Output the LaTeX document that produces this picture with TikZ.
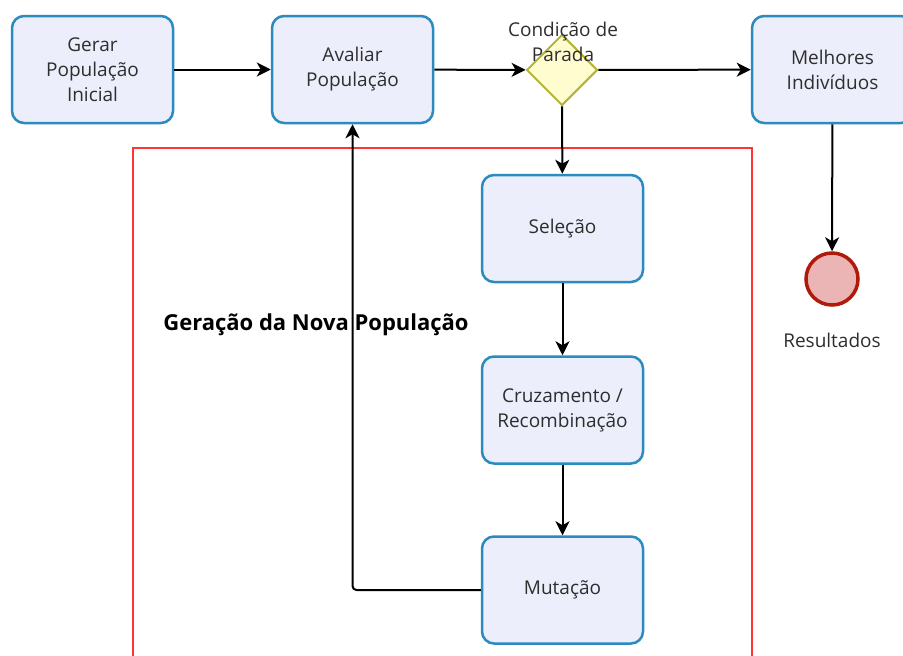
\documentclass[tikz,border=0pt]{standalone}
\usepackage{fontspec}
\setmainfont{Open Sans}
\usetikzlibrary{shapes.geometric,arrows.meta}

\definecolor{boxfill}{HTML}{ECEEFB}
\definecolor{boxline}{HTML}{2B8BBE}
\definecolor{gatefill}{HTML}{FFFDD0}
\definecolor{gateline}{HTML}{B5B43A}
\definecolor{endfill}{HTML}{EBB5B5}
\definecolor{endline}{HTML}{B01A0A}
\definecolor{groupline}{HTML}{FF3535}
\definecolor{txt}{HTML}{2E2E2E}

\begin{document}
\begin{tikzpicture}[x=1pt,y=-1pt,
    font=\fontsize{19}{25}\selectfont,
    every edge/.style={draw,line width=2pt,-{Stealth[length=14pt,width=14pt,inset=4pt]}}]

        \useasboundingbox (0,0) rectangle (903,656);

        % grupo da nova populacao
        \draw[groupline,line width=2pt] (133,680) -- (133,148) -- (752,148) -- (752,680);
        \node[font=\fontsize{22}{26}\selectfont\bfseries] (grupo) at (316,325) {Geração da Nova População};

        \begin{scope}[every node/.style={rectangle,rounded corners=12pt,draw=boxline,fill=boxfill,
            line width=2.5pt,minimum width=161pt,minimum height=107pt,align=center,text=txt}]
          \node (gerar)   at (92.5,69.5)   {Gerar\\População\\Inicial};
          \node (avaliar) at (352.5,69.5)  {Avaliar\\População};
          \node (melhor)  at (832.5,69.5)  {Melhores\\Indivíduos};
          \node (selecao) at (562.5,228.5) {Seleção};
          \node (cruza)   at (562.5,410)   {Cruzamento /\\Recombinação};
          \node (muta)    at (562.5,590)   {Mutação};
        \end{scope}

        \node[diamond,draw=gateline,fill=gatefill,line width=2pt,minimum size=71pt,inner sep=0pt] (parada) at (562,70) {};
        \node[align=center,text=txt] (paradatxt) at (563,42) {Condição de\\Parada};

        \node[circle,draw=endline,fill=endfill,line width=3.5pt,minimum size=52pt,inner sep=0pt] (fim) at (832,279) {};
        \node[text=txt] (fimtxt) at (832,340) {Resultados};

        \path (gerar)   edge (avaliar);
        \path (avaliar) edge (parada);
        \path (parada)  edge (melhor);
        \path (parada)  edge (selecao);
        \path (selecao) edge (cruza);
        \path (cruza)   edge (muta);
        \path (melhor)  edge (fim);
        \draw[line width=2pt,rounded corners=4pt,-{Stealth[length=14pt,width=14pt,inset=4pt]}]
          (muta.west) -| (avaliar.south);

      \end{tikzpicture}
\end{document}
